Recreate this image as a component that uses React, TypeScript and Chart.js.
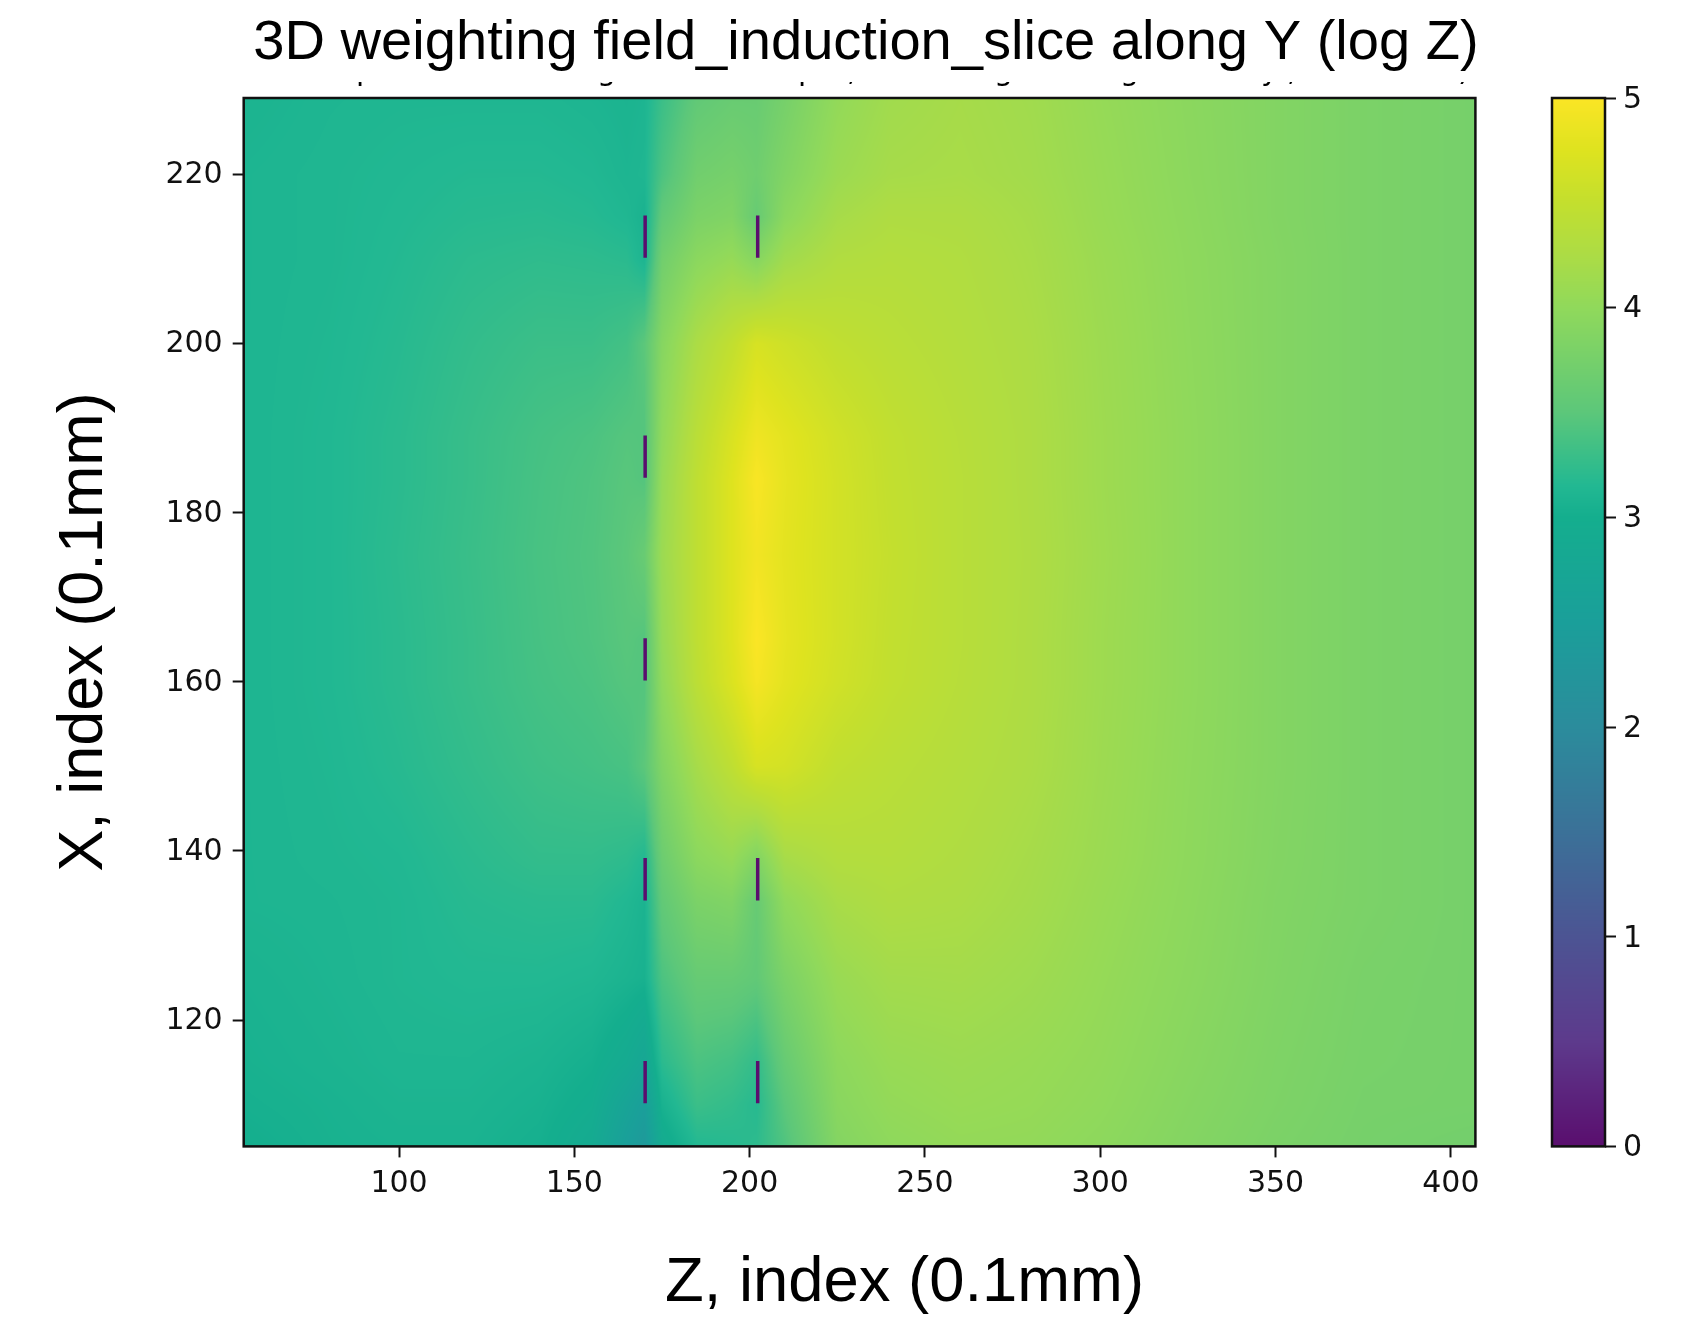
import React, { useEffect, useRef } from "react";
import { Chart, registerables } from "chart.js";

Chart.register(...registerables);

const W = 1691;
const H = 1317;
const MAIN_W = 1530;
const PLOT_BOTTOM = 1146.4;

const titleText = "3D weighting field_induction_slice along Y (log Z)";
const xLabelText = "Z, index (0.1mm)";
const yLabelText = "X, index (0.1mm)";
const xTicks = [100, 150, 200, 250, 300, 350, 400];
const yTicks = [120, 140, 160, 180, 200, 220];
const cbTicks = [0, 1, 2, 3, 4, 5];

const fieldZ = [56, 80, 100, 120, 140, 155, 165, 170, 175, 185, 195, 202, 210, 225, 240, 260, 280, 300, 325, 350, 375, 407];
const fieldX = [229, 220, 215, 210, 200, 189, 184, 175, 165, 160, 150, 139, 134, 125, 115, 110, 105];
const row229 = [3.08, 3.11, 3.12, 3.12, 3.12, 3.1, 3.08, 3.1, 3.3, 3.55, 3.62, 3.62, 3.75, 4.02, 4.15, 4.2, 4.15, 4.05, 3.95, 3.87, 3.8, 3.75];
const row220 = [3.1, 3.12, 3.14, 3.16, 3.16, 3.14, 3.1, 3.12, 3.4, 3.7, 3.75, 3.68, 3.85, 4.1, 4.2, 4.22, 4.17, 4.07, 3.96, 3.87, 3.8, 3.75];
const row215 = [3.1, 3.12, 3.15, 3.18, 3.19, 3.17, 3.13, 3.06, 3.55, 3.8, 3.85, 3.6, 3.95, 4.2, 4.28, 4.27, 4.2, 4.08, 3.97, 3.87, 3.8, 3.75];
const row210 = [3.1, 3.12, 3.16, 3.21, 3.23, 3.22, 3.2, 3.1, 3.7, 3.95, 4.05, 3.9, 4.15, 4.3, 4.33, 4.3, 4.22, 4.1, 3.98, 3.88, 3.8, 3.75];
const row200 = [3.1, 3.13, 3.18, 3.25, 3.3, 3.3, 3.35, 3.5, 3.9, 4.25, 4.48, 4.68, 4.6, 4.47, 4.4, 4.33, 4.25, 4.12, 3.99, 3.88, 3.8, 3.75];
const row189 = [3.1, 3.14, 3.2, 3.28, 3.36, 3.4, 3.46, 3.45, 4.0, 4.4, 4.7, 4.9, 4.8, 4.62, 4.48, 4.37, 4.27, 4.13, 4.0, 3.88, 3.8, 3.75];
const row184 = [3.1, 3.14, 3.2, 3.28, 3.37, 3.42, 3.48, 3.45, 4.05, 4.45, 4.75, 4.98, 4.82, 4.64, 4.49, 4.38, 4.27, 4.13, 4.0, 3.88, 3.8, 3.75];
const row175 = [3.1, 3.14, 3.21, 3.29, 3.38, 3.43, 3.5, 3.62, 4.1, 4.45, 4.75, 4.92, 4.8, 4.64, 4.51, 4.38, 4.28, 4.14, 4.0, 3.88, 3.8, 3.75];
const row165 = [3.1, 3.14, 3.2, 3.28, 3.37, 3.42, 3.48, 3.45, 4.05, 4.45, 4.75, 5.0, 4.82, 4.64, 4.49, 4.38, 4.27, 4.13, 4.0, 3.88, 3.8, 3.75];
const row160 = [3.1, 3.14, 3.2, 3.28, 3.36, 3.4, 3.46, 3.45, 4.0, 4.42, 4.72, 4.95, 4.8, 4.62, 4.48, 4.37, 4.27, 4.13, 4.0, 3.88, 3.8, 3.75];
const row150 = [3.1, 3.13, 3.18, 3.25, 3.32, 3.35, 3.38, 3.5, 3.85, 4.2, 4.45, 4.68, 4.65, 4.47, 4.4, 4.33, 4.25, 4.12, 3.99, 3.88, 3.8, 3.75];
const row139 = [3.1, 3.12, 3.14, 3.2, 3.25, 3.25, 3.22, 3.15, 3.65, 3.95, 4.05, 3.85, 4.2, 4.32, 4.33, 4.28, 4.2, 4.1, 3.98, 3.87, 3.8, 3.75];
const row134 = [3.1, 3.11, 3.13, 3.18, 3.2, 3.2, 3.14, 3.08, 3.55, 3.8, 3.85, 3.6, 4.0, 4.22, 4.28, 4.25, 4.18, 4.08, 3.97, 3.86, 3.8, 3.75];
const row125 = [3.07, 3.1, 3.13, 3.15, 3.15, 3.13, 3.08, 3.05, 3.4, 3.6, 3.6, 3.55, 3.8, 4.08, 4.17, 4.18, 4.13, 4.05, 3.95, 3.85, 3.78, 3.75];
const row115 = [3.05, 3.08, 3.11, 3.11, 3.08, 3.02, 2.88, 2.75, 3.2, 3.4, 3.35, 3.25, 3.6, 3.97, 4.07, 4.1, 4.07, 4.02, 3.92, 3.83, 3.77, 3.75];
const row110 = [3.03, 3.06, 3.09, 3.09, 3.05, 2.96, 2.66, 2.5, 3.05, 3.3, 3.25, 3.18, 3.5, 3.93, 4.03, 4.07, 4.05, 4.0, 3.9, 3.82, 3.76, 3.75];
const row105 = [3.0, 3.05, 3.07, 3.07, 3.02, 2.88, 2.5, 2.35, 2.9, 3.15, 3.18, 3.22, 3.42, 3.88, 3.98, 4.03, 4.02, 3.97, 3.88, 3.8, 3.75, 3.72];
const fieldRows = [row229, row220, row215, row210, row200, row189, row184, row175, row165, row160, row150, row139, row134, row125, row115, row110, row105];

const electrodeZ = [170.2, 170.2, 170.2, 170.2, 170.2, 202.3, 202.3, 202.3];
const electrodeTop = [215.15, 189.15, 165.15, 139.15, 115.15, 215.15, 139.15, 115.15];
const electrodeBottom = [210.15, 184.15, 160.15, 134.15, 110.15, 210.15, 134.15, 110.15];

const cmapValues = [0, 0.5, 1, 1.5, 2, 2.5, 3, 3.15, 3.5, 4, 4.25, 4.5, 4.75, 5];
const cmapColours = ["#5a0e6e", "#5d3a8c", "#4c5493", "#3b7198", "#2b8c9c", "#1a9f9a", "#14ae8e", "#22b892", "#5cc77a", "#90d95b", "#acdc45", "#c3df2e", "#dee31f", "#fbe525"];

const cutGlyphs = ["p", "g", "p", ",", "g", "g", "y", ",", ")"];
const cutGlyphLeft = [356, 597, 798, 847, 994, 1120, 1261, 1287, 1458];

const hex = (s: string) => [1, 3, 5].map((i) => parseInt(s.slice(i, i + 2), 16));
const cmapRgb = cmapColours.map(hex);

function colourOf(v: number) {
  const t = Math.max(0, Math.min(5, v));
  let i = 0;
  while (i < cmapValues.length - 2 && t > cmapValues[i + 1]) i++;
  const f = (t - cmapValues[i]) / (cmapValues[i + 1] - cmapValues[i]);
  return cmapRgb[i].map((c, k) => c + (cmapRgb[i + 1][k] - c) * f);
}

function bracket(list: number[], v: number): [number, number] {
  const asc = list[list.length - 1] > list[0];
  let i = 0;
  while (i < list.length - 2 && (asc ? v > list[i + 1] : v < list[i + 1])) i++;
  const f = Math.max(0, Math.min(1, (v - list[i]) / (list[i + 1] - list[i])));
  return [i, f];
}

const heatPlugin = {
  id: "heat",
  beforeDatasetsDraw(chart: any) {
    const { ctx, chartArea: a, scales } = chart;
    const left = Math.round(a.left);
    const top = Math.round(a.top);
    const w = Math.round(a.right) - left;
    const h = Math.round(a.bottom) - top;
    const img = ctx.createImageData(w, h);
    const cols = Array.from({ length: w }, (_, i) => bracket(fieldZ, scales.x.getValueForPixel(left + i + 0.5)));
    let p = 0;
    for (let j = 0; j < h; j++) {
      const [r, fr] = bracket(fieldX, scales.y.getValueForPixel(top + j + 0.5));
      const r0 = fieldRows[r];
      const r1 = fieldRows[r + 1];
      for (let i = 0; i < w; i++) {
        const [c, fc] = cols[i];
        const v0 = r0[c] + (r0[c + 1] - r0[c]) * fc;
        const v1 = r1[c] + (r1[c + 1] - r1[c]) * fc;
        const col = colourOf(v0 + (v1 - v0) * fr);
        img.data[p++] = col[0];
        img.data[p++] = col[1];
        img.data[p++] = col[2];
        img.data[p++] = 255;
      }
    }
    ctx.putImageData(img, left, top);
  },
};

const framePlugin = {
  id: "frame",
  afterDatasetsDraw(chart: any) {
    const { ctx, chartArea: a } = chart;
    ctx.save();
    ctx.strokeStyle = "#111";
    ctx.lineWidth = 2.5;
    ctx.strokeRect(a.left, a.top, a.right - a.left, a.bottom - a.top);
    ctx.restore();
  },
};

const labelPlugin = {
  id: "labels",
  afterDraw(chart: any) {
    const { ctx } = chart;
    ctx.save();
    ctx.fillStyle = "#000";
    ctx.textBaseline = "alphabetic";
    ctx.textAlign = "center";
    ctx.font = '56.1px "Liberation Sans"';
    ctx.fillText(titleText, 866, 59);
    ctx.font = '63.4px "Liberation Sans"';
    ctx.fillText(xLabelText, 904.5, 1301);
    ctx.save();
    ctx.translate(102, 632);
    ctx.rotate(-Math.PI / 2);
    ctx.font = '63px "Liberation Sans"';
    ctx.fillText(yLabelText, 0, 0);
    ctx.restore();
    ctx.beginPath();
    ctx.rect(300, 82, 1200, 6);
    ctx.clip();
    ctx.textAlign = "left";
    ctx.font = '30px "DejaVu Sans"';
    cutGlyphs.forEach((g, i) => ctx.fillText(g, cutGlyphLeft[i], 80));
    ctx.restore();
  },
};

const colourbarPlugin = {
  id: "colourbar",
  beforeDatasetsDraw(chart: any) {
    const { ctx, chartArea: a, scales } = chart;
    const top = Math.round(a.top);
    const bottom = Math.round(a.bottom);
    for (let y = top; y < bottom; y++) {
      const c = colourOf(scales.y.getValueForPixel(y + 0.5));
      ctx.fillStyle = `rgb(${c[0]},${c[1]},${c[2]})`;
      ctx.fillRect(a.left, y, a.right - a.left, 1);
    }
  },
};

const tickFont = { family: '"DejaVu Sans"', size: 30 };

export default function App() {
  const mainRef = useRef<HTMLCanvasElement>(null);
  const barRef = useRef<HTMLCanvasElement>(null);

  useEffect(() => {
    const electrodePoints: any[] = [];
    electrodeZ.forEach((z, i) => {
      electrodePoints.push({ x: z, y: electrodeTop[i] }, { x: z, y: electrodeBottom[i] }, { x: z, y: null });
    });
    const main = new Chart(mainRef.current as HTMLCanvasElement, {
      type: "scatter",
      data: {
        datasets: [
          {
            label: "electrodes",
            data: electrodePoints,
            showLine: true,
            spanGaps: false,
            borderColor: "#5a0e6e",
            borderWidth: 3.5,
            pointRadius: 0,
          },
        ],
      },
      options: {
        animation: false,
        responsive: false,
        devicePixelRatio: 1,
        layout: { padding: { top: 98, right: MAIN_W - 1475.4, left: 0, bottom: 0 } },
        plugins: { legend: { display: false }, tooltip: { enabled: false } },
        scales: {
          x: {
            type: "linear",
            min: 55.7,
            max: 407,
            afterBuildTicks: (s: any) => {
              s.ticks = xTicks.map((value) => ({ value }));
            },
            afterFit: (s: any) => {
              s.height = H - PLOT_BOTTOM;
            },
            grid: { drawOnChartArea: false, drawTicks: true, tickLength: 11, tickWidth: 2, tickColor: "#111" },
            border: { display: false },
            ticks: { font: tickFont, color: "#111", padding: 9, maxRotation: 0, autoSkip: false },
          },
          y: {
            type: "linear",
            min: 105.05,
            max: 229.06,
            afterBuildTicks: (s: any) => {
              s.ticks = yTicks.map((value) => ({ value }));
            },
            afterFit: (s: any) => {
              s.width = 243.7;
            },
            grid: { drawOnChartArea: false, drawTicks: true, tickLength: 11, tickWidth: 2, tickColor: "#111" },
            border: { display: false },
            ticks: { font: tickFont, color: "#111", padding: 10, labelOffset: 1, autoSkip: false },
          },
        },
      },
      plugins: [heatPlugin, framePlugin, labelPlugin],
    } as any);

    const bar = new Chart(barRef.current as HTMLCanvasElement, {
      type: "scatter",
      data: { datasets: [{ label: "colour scale", data: cmapValues.map((v) => ({ x: 0, y: v })), pointRadius: 0 }] },
      options: {
        animation: false,
        responsive: false,
        devicePixelRatio: 1,
        layout: { padding: { top: 98, left: 1552 - MAIN_W, right: 0, bottom: H - PLOT_BOTTOM } },
        plugins: { legend: { display: false }, tooltip: { enabled: false } },
        scales: {
          x: { display: false, min: -1, max: 1 },
          y: {
            type: "linear",
            position: "right",
            min: 0,
            max: 5,
            afterBuildTicks: (s: any) => {
              s.ticks = cbTicks.map((value) => ({ value }));
            },
            afterFit: (s: any) => {
              s.width = W - 1605;
            },
            grid: { drawOnChartArea: false, drawTicks: true, tickLength: 11, tickWidth: 2, tickColor: "#111" },
            border: { display: false },
            ticks: { font: tickFont, color: "#111", padding: 7, labelOffset: 2, autoSkip: false },
          },
        },
      },
      plugins: [colourbarPlugin, framePlugin],
    } as any);

    return () => {
      main.destroy();
      bar.destroy();
    };
  }, []);

  return (
    <div style={{ position: "absolute", left: 0, top: 0, width: W, height: H, background: "#fff", overflow: "hidden" }}>
      <canvas ref={mainRef} width={MAIN_W} height={H} style={{ position: "absolute", left: 0, top: 0 }} />
      <canvas ref={barRef} width={W - MAIN_W} height={H} style={{ position: "absolute", left: MAIN_W, top: 0 }} />
    </div>
  );
}
